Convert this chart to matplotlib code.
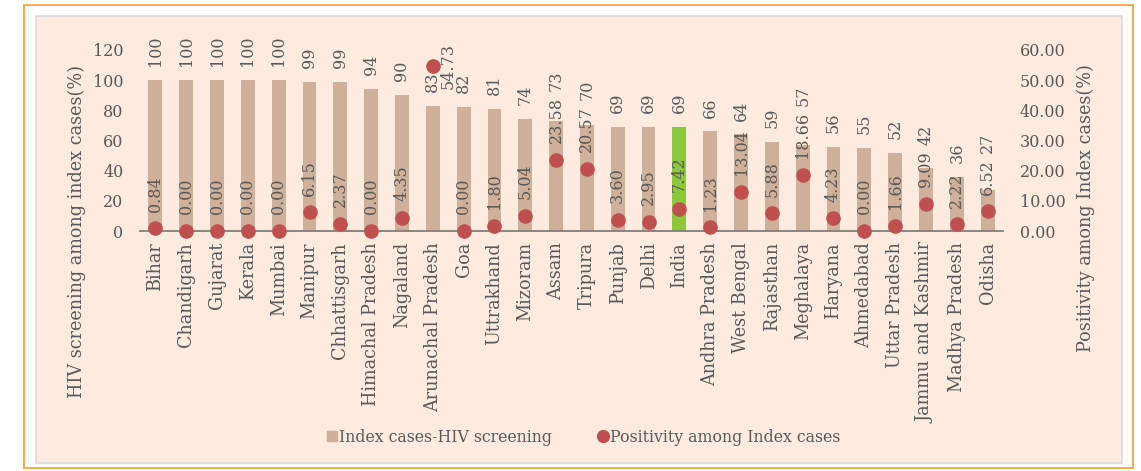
import matplotlib
matplotlib.use("Agg")
import matplotlib.pyplot as plt
from matplotlib.patches import Rectangle
from matplotlib.lines import Line2D
import numpy as np

plt.rcParams["font.family"] = ["DejaVu Serif"]

states = [
    "Bihar", "Chandigarh", "Gujarat", "Kerala", "Mumbai", "Manipur",
    "Chhattisgarh", "Himachal Pradesh", "Nagaland", "Arunachal Pradesh",
    "Goa", "Uttrakhand", "Mizoram", "Assam", "Tripura", "Punjab", "Delhi",
    "India", "Andhra Pradesh", "West Bengal", "Rajasthan", "Meghalaya",
    "Haryana", "Ahmedabad", "Uttar Pradesh", "Jammu and Kashmir",
    "Madhya Pradesh", "Odisha",
]
screening = [100, 100, 100, 100, 100, 99, 99, 94, 90, 83, 82, 81, 74, 73,
             70, 69, 69, 69, 66, 64, 59, 57, 56, 55, 52, 42, 36, 27]
positivity = [0.84, 0.00, 0.00, 0.00, 0.00, 6.15, 2.37, 0.00, 4.35, 54.73,
              0.00, 1.80, 5.04, 23.58, 20.57, 3.60, 2.95, 7.42, 1.23, 13.04,
              5.88, 18.66, 4.23, 0.00, 1.66, 9.09, 2.22, 6.52]

BAR = "#cfb09b"
HIGHLIGHT = "#8dc63f"
DOT = "#c0504d"
TXT = "#595959"
FS_NUM = 11.5
FS_TXT = 12.7

W, H = 1141, 471
fig = plt.figure(figsize=(W / 100, H / 100), dpi=100)
fig.patch.set_facecolor("white")

# outer border and shaded chart area
fig.patches.append(Rectangle((24 / W, 1 - 468 / H), (1133 - 24) / W, (468 - 5) / H,
                             transform=fig.transFigure, fill=False,
                             edgecolor="#f5a540", linewidth=1.3, zorder=-2))
fig.patches.append(Rectangle((36 / W, 1 - 463 / H), (1122 - 36) / W, (463 - 16) / H,
                             transform=fig.transFigure, facecolor="#fdebe0",
                             edgecolor="#d9d9d9", linewidth=1.2, zorder=-2))

ax = fig.add_axes([140 / W, 1 - 231 / H, (1003 - 140) / W, (231 - 50) / H])
ax.set_facecolor("none")
x = np.arange(len(states))
colors = [HIGHLIGHT if s == "India" else BAR for s in states]
ax.bar(x, screening, width=0.45, color=colors, zorder=2)
ax.set_xlim(-0.5, len(states) - 0.5)
ax.set_ylim(0, 120)
ax.set_yticks(range(0, 121, 20))
ax.set_xticks(x)
ax.set_xticklabels(states, rotation=90, fontsize=FS_TXT, color=TXT)
ax.tick_params(axis="both", length=0, labelcolor=TXT)
ax.tick_params(axis="y", labelsize=FS_NUM, pad=12)
ax.tick_params(axis="x", pad=8)
for side in ["top", "right", "left"]:
    ax.spines[side].set_visible(False)
ax.spines["bottom"].set_color("#7f7f7f")
ax.spines["bottom"].set_linewidth(1.3)

bar_labels = []
for xi, v in zip(x, screening):
    bar_labels.append(ax.annotate(f"{v}", (xi, v), xytext=(0, 10),
                                  textcoords="offset points", rotation=90,
                                  ha="center", va="bottom", fontsize=FS_NUM,
                                  color=TXT))

ax2 = ax.twinx()
ax2.set_ylim(0, 60)
ax2.set_yticks(range(0, 61, 10))
ax2.set_yticklabels([f"{t:.2f}" for t in range(0, 61, 10)])
ax2.tick_params(axis="y", length=0, labelsize=FS_NUM, labelcolor=TXT, pad=12)
for side in ["top", "right", "left", "bottom"]:
    ax2.spines[side].set_visible(False)
ax2.plot(x, positivity, "o", color=DOT, markersize=9.5, linestyle="none",
         zorder=4, clip_on=False)
pos_labels = []
for xi, v in zip(x, positivity):
    pos_labels.append(ax2.annotate(f"{v:.2f}", (xi, v), xytext=(0, 12),
                                   textcoords="offset points", rotation=90,
                                   ha="center", va="bottom", fontsize=FS_NUM,
                                   color=TXT, zorder=3))

fig.text(77 / W, 1 - 231 / H, "HIV screening among index cases(%)", rotation=90,
         ha="center", va="center", fontsize=FS_TXT, color=TXT)
fig.text(1086 / W, 1 - 208 / H, "Positivity among Index cases(%)", rotation=90,
         ha="center", va="center", fontsize=FS_TXT, color=TXT)

handles = [
    Line2D([], [], marker="s", color=BAR, linestyle="none", markersize=7),
    Line2D([], [], marker="o", color=DOT, linestyle="none", markersize=8.5),
]
fig.legend(handles, ["Index cases-HIV screening", "Positivity among Index cases"],
           loc="center", bbox_to_anchor=(583 / W, 1 - 437 / H), ncol=2,
           frameon=False, fontsize=11.3, labelcolor=TXT, handletextpad=0.05,
           columnspacing=2.8, handlelength=0.8)

# keep the two sets of value labels apart
fig.canvas.draw()
renderer = fig.canvas.get_renderer()
top_limit = H - 20
px2pt = 72 / fig.dpi
for bl, pl in zip(bar_labels, pos_labels):
    pb = pl.get_window_extent(renderer)
    if pb.y1 > top_limit:
        pl.xyann = (5, 0)
        pl.set_ha("left")
        pl.set_va("center")
        continue
    bb = bl.get_window_extent(renderer)
    if bb.overlaps(pb):
        shift = (pb.y1 - bb.y0 + 6) * px2pt
        bl.xyann = (0, bl.xyann[1] + shift)

fig.savefig("out.png", dpi=100)
